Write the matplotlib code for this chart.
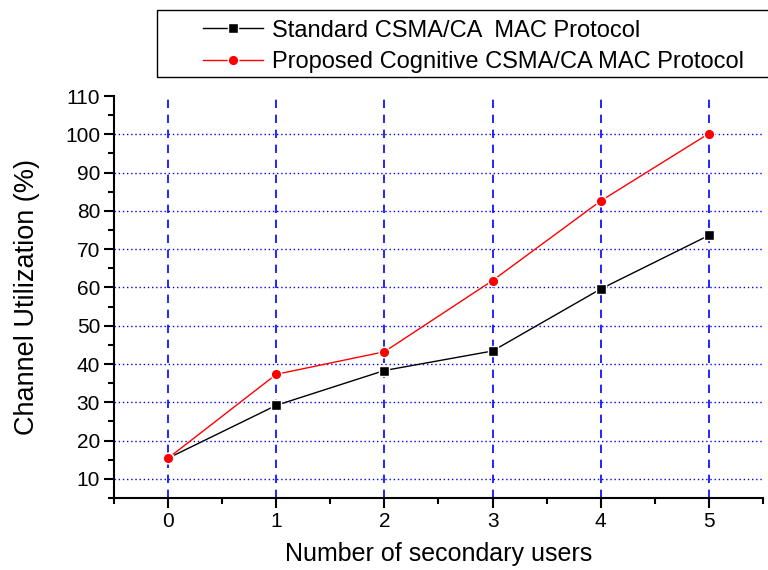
import matplotlib
matplotlib.use("Agg")
import matplotlib.pyplot as plt
from matplotlib.ticker import MultipleLocator
from matplotlib.patches import Rectangle

plt.rcParams['font.family'] = ['Liberation Sans', 'DejaVu Sans']

users = [0, 1, 2, 3, 4, 5]
standard = [15.4, 29.2, 38.3, 43.4, 59.6, 73.6]
proposed = [15.4, 37.3, 43.2, 61.8, 82.6, 100.2]
labels = ["Standard CSMA/CA  MAC Protocol", "Proposed Cognitive CSMA/CA MAC Protocol"]

W, H = 768, 570
fig = plt.figure(figsize=(7.68, 5.70), dpi=100)
ax = fig.add_axes([114/W, 1-498/H, (763-114)/W, (498-96)/H])

ax.set_xlim(-0.5, 5.5)
ax.set_ylim(5, 110)

for x in users:
    ax.plot([x, x], [5, 110], color='blue', linestyle=(0, (5, 4)), linewidth=1.2, zorder=1)
for y in range(10, 101, 10):
    ax.plot([-0.5, 5.5], [y, y], color='blue', linestyle=(0, (1, 2)), linewidth=1.0, zorder=1)

ax.plot(users, standard, color='black', marker='s', markersize=7, markeredgecolor='white',
        markeredgewidth=1.0, linewidth=1.0, label=labels[0], zorder=3)
ax.plot(users, proposed, color='red', marker='o', markersize=7.6, markeredgecolor='white',
        markeredgewidth=1.0, linewidth=1.0, label=labels[1], zorder=3)

ax.spines['top'].set_visible(False)
ax.spines['right'].set_visible(False)
ax.spines['left'].set_linewidth(1.5)
ax.spines['bottom'].set_linewidth(1.5)

ax.xaxis.set_major_locator(MultipleLocator(1))
ax.xaxis.set_minor_locator(MultipleLocator(0.5))
ax.yaxis.set_minor_locator(MultipleLocator(5))
ax.set_yticks(range(10, 111, 10))
ax.tick_params(which='major', direction='out', length=7, width=1.5, labelsize=15, pad=3)
ax.tick_params(which='minor', direction='out', length=4, width=1.5)

ax.set_xlabel("Number of secondary users", fontsize=18, labelpad=8)
ax.set_ylabel("Channel Utilization (%)", fontsize=19.5, labelpad=18)

# legend box
fig.add_artist(Rectangle((157/W, 1-77/H), (W+5-157)/W, (77-10)/H, transform=fig.transFigure,
                         facecolor='white', edgecolor='black', linewidth=1.0, zorder=5))
leg = fig.legend(loc='center left', bbox_to_anchor=(203/W, 1-46.5/H), fontsize=17,
                 frameon=False, handlelength=2.54, handletextpad=0.38, borderpad=0,
                 labelspacing=0.42, borderaxespad=0)
leg.set_zorder(6)

fig.savefig("out.png", dpi=100)
